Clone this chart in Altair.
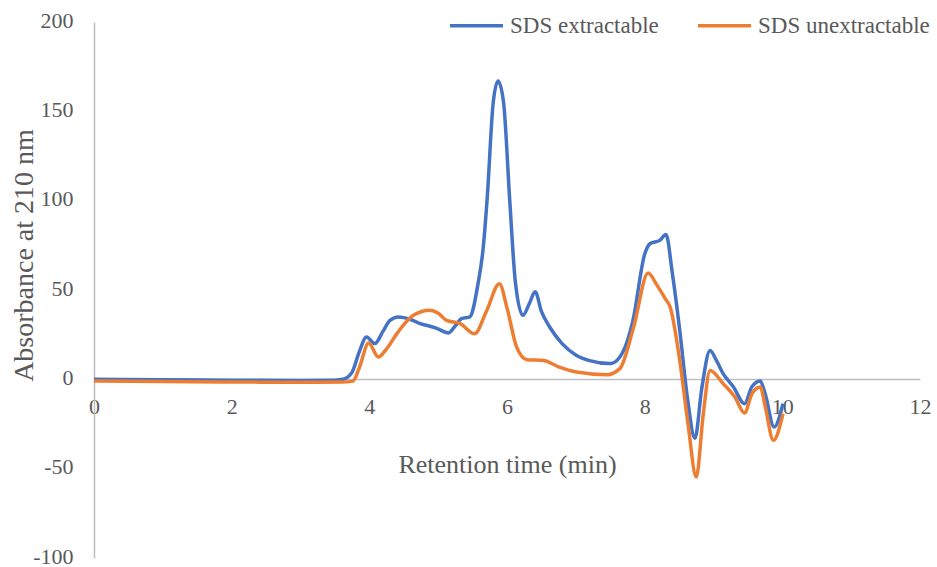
import altair as alt
import pandas as pd

# SDS extractable (blue)
ext_x = [0.0, 1.0, 2.0, 3.0, 3.5, 3.62, 3.75, 3.85, 3.96, 4.08, 4.2, 4.3, 4.42, 4.6, 4.75, 4.88,
         4.98, 5.15, 5.25, 5.34, 5.46, 5.58, 5.65, 5.71, 5.80, 5.87, 5.95, 6.04, 6.12, 6.23,
         6.32, 6.41, 6.5, 6.62, 6.8, 7.01, 7.2, 7.5, 7.64, 7.83, 8.0, 8.08, 8.22, 8.31, 8.4,
         8.51, 8.62, 8.73, 8.83, 8.95, 9.05, 9.14, 9.29, 9.45, 9.56, 9.68, 9.75, 9.88, 10.01]
ext_y = [0.0, -0.3, -0.5, -0.6, -0.5, 0.0, 4, 15, 23.7, 20, 27, 33, 34.9, 33.5, 31, 29.7,
         28.5, 26, 30, 34, 35, 53.7, 72, 100, 155, 167, 155, 100, 55, 35.8,
         42, 49, 38, 29.3, 20, 13.4, 10.5, 8.8, 12.5, 33, 70, 76, 77.8, 81, 60,
         27.4, -10, -33, -5, 16.2, 10, 3.2, -4.3, -13.6, -4, -1, -8, -26.7, -13.6]

# SDS unextractable (orange)
unext_x = [0.0, 1.0, 2.0, 3.0, 3.6, 3.76, 3.85, 3.99, 4.13, 4.25, 4.4, 4.64, 4.88, 5.0, 5.12,
           5.32, 5.53, 5.7, 5.89, 6.0, 6.14, 6.29, 6.53, 6.75, 7.01, 7.45, 7.64, 7.84, 8.05,
           8.18, 8.3, 8.37, 8.51, 8.63, 8.75, 8.85, 8.95, 9.14, 9.31, 9.45, 9.56, 9.68, 9.75,
           9.87, 10.01]
unext_y = [-1.0, -1.2, -1.5, -1.6, -1.5, -1.0, 6, 20.3, 12.5, 17, 25.6, 35.8, 38.6, 37, 33,
           31.2, 25.5, 38, 53.5, 40, 18, 11, 10.6, 7, 4.1, 2.6, 6, 29.3, 59.5,
           52.6, 45.1, 40.5, 10.6, -25, -54.7, -20, 5, -2.4, -9.9, -18.8, -8, -4.3, -15,
           -34.1, -19.2]

series_names = ["SDS extractable", "SDS unextractable"]
series_colors = ["#4472C4", "#ED7D31"]
x_ticks = [0, 2, 4, 6, 8, 10, 12]
y_ticks = [-100, -50, 0, 50, 100, 150, 200]

rows = []
for i, (x, y) in enumerate(zip(ext_x, ext_y)):
    rows.append({"t": x, "a": y, "s": series_names[0], "o": i})
for i, (x, y) in enumerate(zip(unext_x, unext_y)):
    rows.append({"t": x, "a": y, "s": series_names[1], "o": i})
df = pd.DataFrame(rows)

FONT = "Times New Roman, Liberation Serif, serif"
GRAY = "#595959"
HYPHEN = "replace(datum.label, '\u2212', '-')"

chart = alt.Chart(df).mark_line(strokeWidth=3.5, interpolate="monotone").encode(
    x=alt.X("t:Q", scale=alt.Scale(domain=[0, 12], nice=False),
            axis=alt.Axis(values=x_ticks, title="Retention time (min)", orient="bottom",
                          offset=-179, grid=False, ticks=False, domainColor="#BFBFBF",
                          domainWidth=1.5, labelPadding=17, titlePadding=34,
                          labelFontSize=22, titleFontSize=26, labelColor=GRAY,
                          titleColor=GRAY, labelFont=FONT, titleFont=FONT,
                          titleFontWeight="normal", labelFlush=False, labelExpr=HYPHEN)),
    y=alt.Y("a:Q", scale=alt.Scale(domain=[-100, 200], nice=False),
            axis=alt.Axis(values=y_ticks, title="Absorbance at 210 nm", grid=False,
                          ticks=False, domainColor="#BFBFBF", domainWidth=1.5,
                          labelPadding=21, labelFontSize=22, labelOffset=-2,
                          titleFontSize=28, labelColor=GRAY, titleColor=GRAY,
                          labelFont=FONT, titleFont=FONT, titleFontWeight="normal",
                          titleX=-70, titleY=233, titleAngle=270, titleAlign="center",
                          titleBaseline="middle",
                          labelFlush=False, labelExpr=HYPHEN)),
    color=alt.Color("s:N", scale=alt.Scale(domain=series_names, range=series_colors),
                    legend=alt.Legend(title=None, orient="none", direction="horizontal",
                                      legendX=354, legendY=-25, symbolType="stroke",
                                      symbolSize=2809, symbolStrokeWidth=3.5,
                                      labelFontSize=23, labelFont=FONT, labelColor=GRAY,
                                      labelLimit=400, labelOffset=5, columnPadding=32,
                                      padding=0)),
    order="o:Q",
).properties(
    width=826, height=536,
    padding={"left": 94, "top": 22, "right": 17, "bottom": 9},
    autosize=alt.AutoSizeParams(type="none"),
).configure_view(stroke=None)

chart.save("out.html", embed_options={"renderer": "svg", "actions": False})
